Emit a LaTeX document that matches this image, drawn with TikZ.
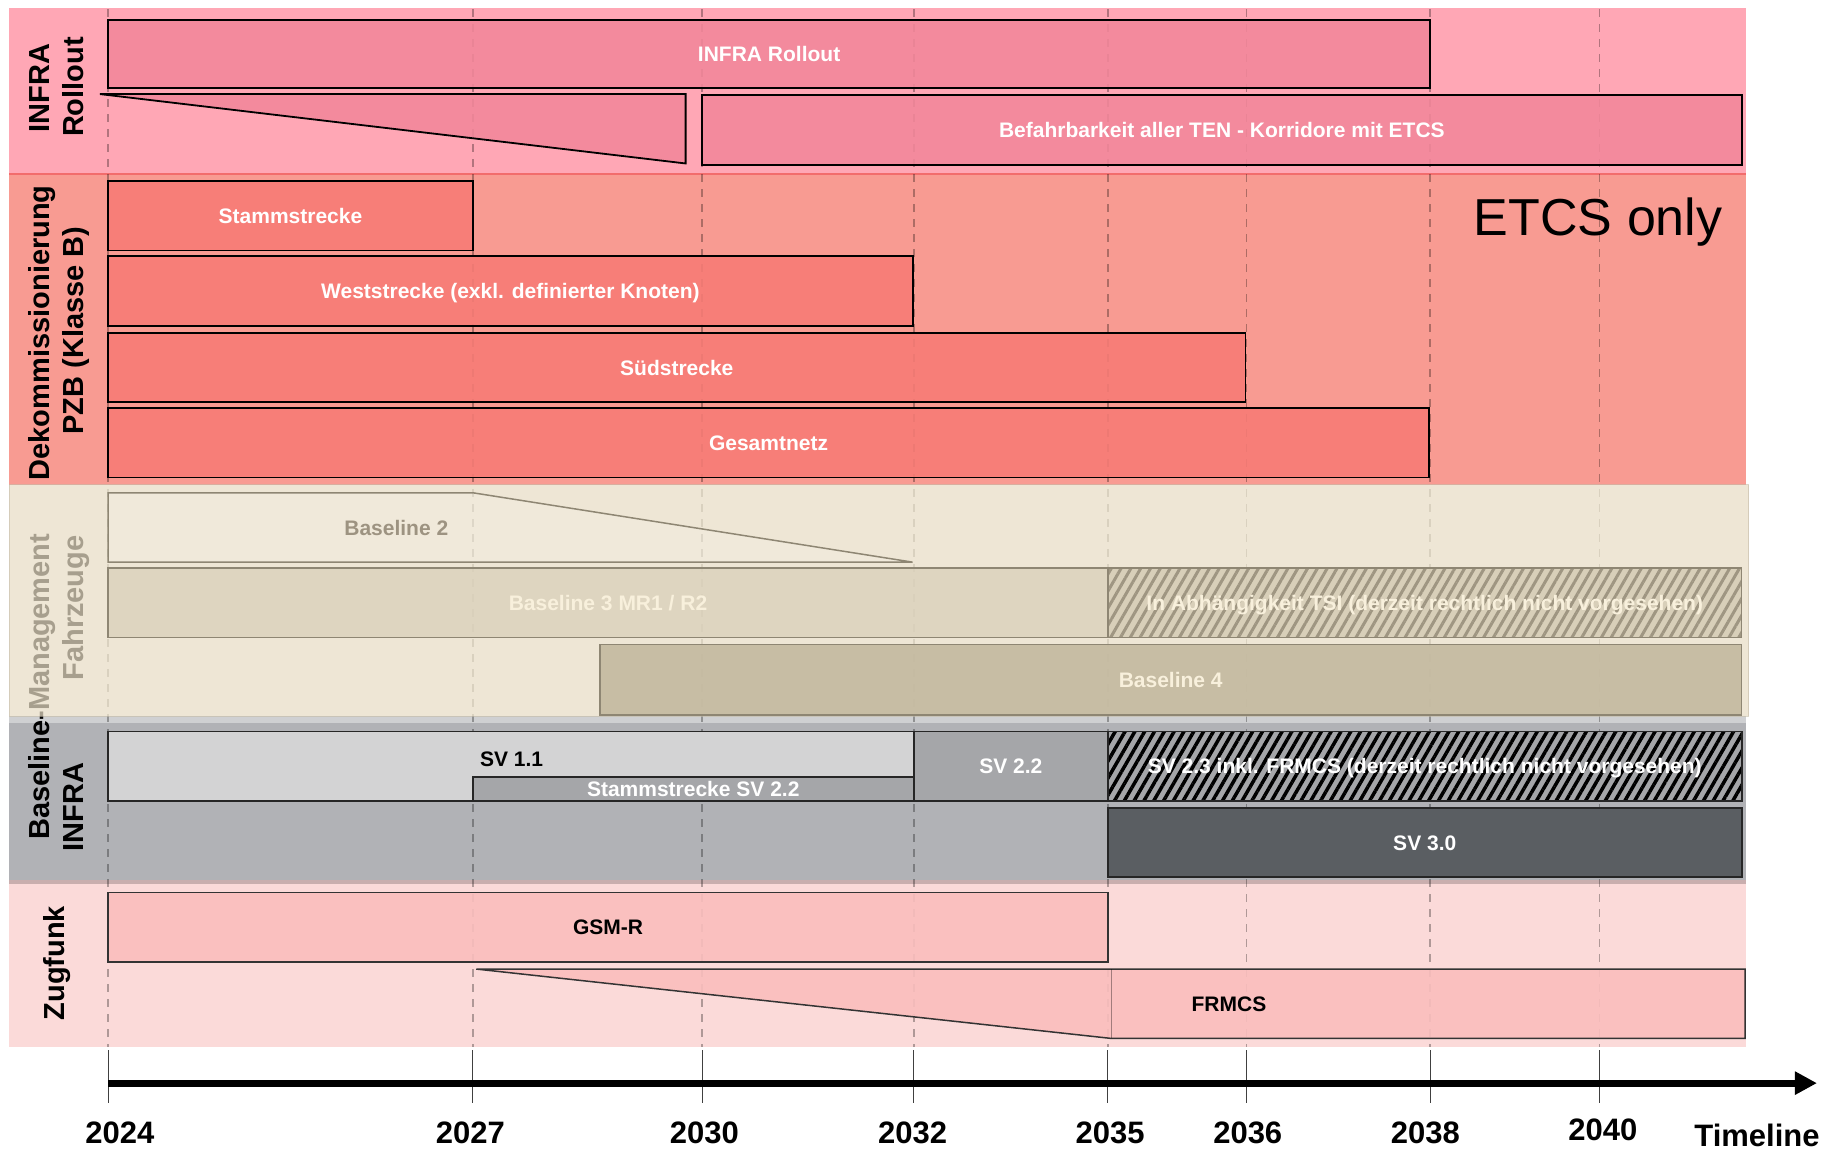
\documentclass[tikz,border=0pt]{standalone}
\usepackage{fontspec}
\setmainfont{Liberation Sans}
\usetikzlibrary{arrows.meta,patterns.meta,fit}
\definecolor{bgA}{HTML}{FFA7B5}
\definecolor{boxA}{HTML}{F2879A}
\definecolor{bgB}{HTML}{F89B92}
\definecolor{boxB}{HTML}{F77B75}
\definecolor{bgC}{HTML}{E8DDC5}
\definecolor{bgD}{HTML}{B1B2B6}
\definecolor{stripD}{HTML}{CFD0D2}
\definecolor{bgE}{HTML}{FBDAD9}
\definecolor{boxE}{HTML}{FABEBD}
\definecolor{svlight}{HTML}{D3D3D4}
\definecolor{svmid}{HTML}{A5A6A9}
\definecolor{svdark}{HTML}{5A5E62}
\definecolor{beigeline}{HTML}{8E8673}
\definecolor{beigetext}{HTML}{F8F0DC}
\definecolor{bltwotext}{HTML}{9D9381}
\definecolor{blthreefill}{HTML}{DAD0B9}
\definecolor{blfourfill}{HTML}{C3B99F}
\definecolor{hatchbg}{HTML}{D3CAB3}
\definecolor{hatchln}{HTML}{9F9682}
\definecolor{sepred}{HTML}{F26C6C}
\begin{document}
\begin{tikzpicture}[x=1.17602pt,y=-1.17602pt,
  boxfont/.style={font=\fontsize{21}{25}\selectfont\bfseries},
  bar/.style={draw=black, line width=1.8pt, inner sep=0pt},
  bartext/.style={boxfont, anchor=base, inner sep=0pt, yshift=-7.5pt, text=white},
  pinkbar/.style={bar, fill=boxA, fill opacity=0.88},
  redbar/.style={bar, fill=boxB, fill opacity=0.88},
  beigebar/.style={draw=beigeline, line width=1.5pt, inner sep=0pt},
  greybar/.style={bar, draw=black!85},
  radiobar/.style={bar, draw=black!80, line width=1.5pt, fill=boxE, fill opacity=0.9},
  sidelabel/.style={rotate=90, anchor=base, inner sep=0pt, font=\fontsize{29}{35}\selectfont\bfseries},
  yearlabel/.style={anchor=base, inner sep=0pt, font=\fontsize{31}{37}\selectfont\bfseries},
  yrdash/.style={black, opacity=0.3, line width=1.5pt, dash pattern=on 8pt off 7pt},
  yrtick/.style={black!75, line width=1.1pt},
]
\useasboundingbox (0,0) rectangle (1568,978);
% ---------- band backgrounds
\fill[bgA] (8,7) rectangle (1485,148);
\fill[bgB] (8,148) rectangle (1485,412);
\draw[sepred, line width=1.2pt] (8,148) -- (1485,148);
\fill[bgD] (8,609) rectangle (1485,750);
\fill[stripD] (8,609) rectangle (1485,615);
\fill[bgE] (8,750) rectangle (1485,890);
\fill[black!20!bgE] (8,748) rectangle (1485,752);
% ---------- year grid lines
\foreach \xx in {92,402,597,777,942,1060,1216,1360}{
  \draw[yrdash] (\xx,8) -- (\xx,890);
  \draw[yrtick] (\xx,893) -- (\xx,938);
}
% ---------- side labels
\node[sidelabel] (lInfraA) at (42,75) {INFRA};
\node[sidelabel] (lRollout) at (71,74) {Rollout};
\node[sidelabel] (lDekom) at (42,283) {Dekommissionierung};
\node[sidelabel] (lPZB) at (71,281) {PZB (Klasse B)};
\node[sidelabel] (lBaseline) at (42,584) {Baseline-Management};
\node[sidelabel] (lFahrz) at (71,517) {Fahrzeuge};
\node[sidelabel] (lInfraB) at (71,686) {INFRA};
\node[sidelabel] (lZug) at (55,819) {Zugfunk};
% ---------- band 3 overlay (semi transparent)
\fill[bgC, opacity=0.72] (8,412) rectangle (1487,609);
\draw[bgC!85!black, line width=0.8pt, opacity=0.6] (8,412) rectangle (1487,609);
% ---------- band 1: INFRA Rollout
\node[pinkbar, fit={(92,17) (1216,75)}] (infraRoll) {};
\node[bartext] (infraRollT) at (infraRoll.center) {INFRA Rollout};
\filldraw[fill=boxA, fill opacity=0.88, draw=black, line width=1.8pt] (85,80) -- (583,80) -- (583,139) -- cycle;
\node[pinkbar, fit={(597,81) (1481,140)}] (befahr) {};
\node[bartext] (befahrT) at (befahr.center) {Befahrbarkeit aller TEN - Korridore mit ETCS};
% ---------- band 2: Dekommissionierung
\node[redbar, fit={(92,154) (402,213)}] (stamm) {};
\node[bartext] (stammT) at (stamm.center) {Stammstrecke};
\node[redbar, fit={(92,218) (776,277)}] (west) {};
\node[bartext] (westT) at (west.center) {Weststrecke (exkl. definierter Knoten)};
\node[redbar, fit={(92,283) (1059,342)}] (sued) {};
\node[bartext] (suedT) at (sued.center) {Südstrecke};
\node[redbar, fit={(92,347) (1215,406)}] (gesamt) {};
\node[bartext] (gesamtT) at (gesamt.center) {Gesamtnetz};
\node[anchor=base, inner sep=0pt, font=\fontsize{52}{60}\selectfont] (etcsonly) at (1359,200) {ETCS only};
% ---------- band 3: Baseline-Management Fahrzeuge
\draw[beigeline, line width=1.5pt, fill=white, fill opacity=0.12] (92,419) -- (402,419) -- (776,478) -- (92,478) -- cycle;
\node[bartext, text=bltwotext] (bl2) at (337,449) {Baseline 2};
\node[beigebar, fill=blthreefill, fill opacity=0.75, fit={(92,483) (942,542)}] (bl3) {};
\node[bartext, text=beigetext] (bl3T) at (bl3.center) {Baseline 3 MR1 / R2};
\node[beigebar, preaction={fill=hatchbg, fill opacity=0.8}, pattern={Lines[angle=60,distance=8.5pt,line width=3pt]}, pattern color=hatchln, fit={(942,483) (1481,542)}] (tsi) {};
\node[bartext, text=beigetext] (tsiT) at (tsi.center) {In Abhängigkeit TSI (derzeit rechtlich nicht vorgesehen)};
\node[beigebar, fill=blfourfill, fill opacity=0.9, fit={(510,548) (1481,608)}] (bl4) {};
\node[bartext, text=beigetext] (bl4T) at (bl4.center) {Baseline 4};
% ---------- band 4: Baseline INFRA
\node[greybar, fill=svlight, fit={(92,622) (777,681)}] (sv11) {};
\node[boxfont, text=black, anchor=base west, inner sep=0pt] (sv11t) at (408,651.5) {SV 1.1};
\node[greybar, fill=svmid, fit={(402,661) (777,681)}] (stammsv) {};
\node[bartext] (stammsvT) at (stammsv.center) {Stammstrecke SV 2.2};
\node[greybar, fill=svmid, fit={(777,622) (942,681)}] (sv22) {};
\node[bartext] (sv22T) at (sv22.center) {SV 2.2};
\node[greybar, preaction={fill=svmid}, pattern={Lines[angle=60,distance=8.5pt,line width=3.5pt]}, pattern color=black, fit={(942,622) (1481,681)}] (sv23) {};
\node[bartext] (sv23T) at (sv23.center) {SV 2.3 inkl. FRMCS (derzeit rechtlich nicht vorgesehen)};
\node[greybar, fill=svdark, fit={(942,687) (1481,746)}] (sv30) {};
\node[bartext] (sv30T) at (sv30.center) {SV 3.0};
% ---------- band 5: Zugfunk
\node[radiobar, fit={(92,759) (942,818)}] (gsmr) {};
\node[bartext, text=black] (gsmrT) at (gsmr.center) {GSM-R};
\filldraw[fill=boxE, fill opacity=0.9, draw=black!80, line width=1.5pt] (405,824) -- (1484,824) -- (1484,883) -- (945,883) -- cycle;
\draw[black, opacity=0.35, line width=1.5pt] (945,824) -- (945,883);
\node[bartext, text=black] (frmcs) at (1045,854) {FRMCS};
% ---------- timeline
\coordinate (axS) at (92,921);
\coordinate (axE) at (1545,921);
\draw[line width=7pt, -{Triangle[length=22pt,width=22pt]}] (axS) -- (axE);
\node[yearlabel] (y2024) at (102,972) {2024};
\node[yearlabel] (y2027) at (400,972) {2027};
\node[yearlabel] (y2030) at (599,972) {2030};
\node[yearlabel] (y2032) at (776,972) {2032};
\node[yearlabel] (y2035) at (944,972) {2035};
\node[yearlabel] (y2036) at (1061,972) {2036};
\node[yearlabel] (y2038) at (1212,972) {2038};
\node[yearlabel] (y2040) at (1363,970) {2040};
\node[yearlabel] (ytl) at (1494,975) {Timeline};
\end{tikzpicture}
\end{document}
